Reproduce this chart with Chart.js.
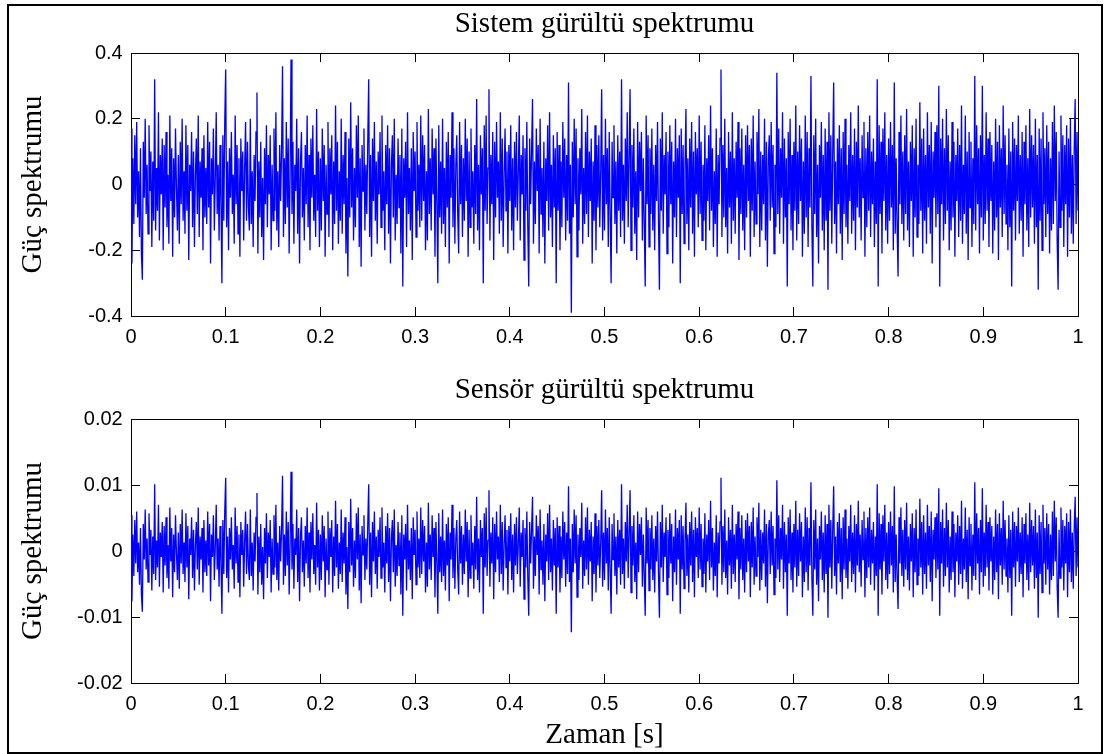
<!DOCTYPE html>
<html>
<head>
<meta charset="utf-8">
<title>Gürültü spektrumu</title>
<script src="https://cdn.jsdelivr.net/npm/chart.js@4.4.1/dist/chart.umd.min.js"></script>
<style>
  html, body { margin: 0; padding: 0; background: #fff; }
  body { width: 1108px; height: 754px; position: relative; overflow: hidden; }
  canvas { position: absolute; left: 0; }
  #topChart { top: 0; }
  #bottomChart { top: 370px; }
  .frame {
    position: absolute; left: 7px; top: 4px; width: 1096px; height: 750px;
    border: 2px solid #000; box-sizing: border-box; pointer-events: none;
  }
</style>
</head>
<body>
<canvas id="topChart" width="1108" height="370"></canvas>
<canvas id="bottomChart" width="1108" height="384"></canvas>
<div class="frame"></div>

<script>
// sampling step of the noise records (seconds)
const SAMPLE_STEP = 0.001;

const xTickValues = [0, 0.1, 0.2, 0.3, 0.4, 0.5, 0.6, 0.7, 0.8, 0.9, 1];
const xTickLabels = ['0', '0.1', '0.2', '0.3', '0.4', '0.5', '0.6', '0.7', '0.8', '0.9', '1'];

const sistemTickValues = [-0.4, -0.2, 0, 0.2, 0.4];
const sistemTickLabels = ['-0.4', '-0.2', '0', '0.2', '0.4'];

const sensorTickValues = [-0.02, -0.01, 0, 0.01, 0.02];
const sensorTickLabels = ['-0.02', '-0.01', '0', '0.01', '0.02'];

// System noise (one row = 0.05 s)
const sistemNoise = [
  0.17,-0.24,0.08,-0.12,0.15,-0.06,0.19,-0.10,0.04,-0.16,0.11,-0.21,-0.29,0.13,-0.04,0.20,-0.09,0.06,-0.15,0.18,-0.02,0.10,-0.19,0.07,-0.11,0.32,-0.14,0.05,-0.08,0.22,-0.17,0.09,-0.03,0.14,-0.20,0.12,-0.07,0.16,-0.13,0.03,-0.18,0.21,-0.05,0.11,-0.22,0.08,-0.10,0.17,-0.01,-0.14,
  0.09,-0.18,0.13,-0.06,0.20,-0.11,0.04,-0.15,0.18,-0.08,0.12,-0.23,0.06,-0.02,0.16,-0.13,0.10,-0.19,0.03,0.14,-0.09,0.21,-0.16,0.07,-0.04,0.11,-0.20,0.15,-0.10,0.05,-0.12,0.19,-0.07,0.13,-0.24,0.08,-0.03,0.17,-0.14,0.02,0.22,-0.09,0.06,-0.17,0.12,-0.05,-0.30,0.15,-0.11,0.19,
  0.35,-0.13,0.07,-0.20,0.11,-0.04,0.16,-0.09,0.03,-0.18,0.21,-0.06,0.12,-0.15,0.08,-0.22,0.14,-0.02,0.10,-0.17,0.05,0.19,-0.11,0.13,-0.07,-0.14,0.20,-0.12,0.04,-0.19,0.09,-0.05,0.16,0.28,-0.21,0.07,-0.10,0.13,-0.16,0.02,-0.23,0.11,-0.06,0.18,-0.13,0.09,-0.03,0.15,-0.20,0.06,
  -0.11,0.17,-0.08,0.22,-0.14,0.04,-0.19,0.12,-0.05,0.10,0.36,-0.16,0.08,-0.12,0.19,-0.07,0.14,-0.21,0.03,0.38,-0.09,0.13,-0.18,0.06,-0.02,0.20,-0.15,0.11,-0.24,0.07,0.16,-0.10,0.05,-0.17,0.12,-0.06,0.21,-0.13,0.09,-0.20,0.14,-0.04,0.18,-0.11,0.03,-0.16,0.23,-0.08,0.10,-0.19,
  0.08,-0.14,0.17,-0.05,0.12,-0.22,0.06,-0.09,0.19,-0.16,0.11,-0.03,0.15,-0.20,0.07,-0.12,0.24,-0.08,0.13,-0.18,0.04,-0.11,0.20,-0.15,0.09,-0.06,0.16,-0.21,0.02,-0.28,0.14,-0.10,0.25,-0.07,0.11,-0.17,0.05,-0.13,0.18,-0.04,0.21,-0.19,0.08,-0.25,0.12,-0.02,0.17,-0.14,0.06,-0.09,
  0.13,0.32,-0.16,0.09,-0.22,0.14,-0.05,0.19,-0.11,0.07,-0.18,0.10,-0.03,0.16,-0.13,0.21,-0.08,0.04,-0.20,0.12,-0.06,0.18,-0.15,0.11,-0.24,0.06,0.15,-0.10,0.20,-0.17,0.03,-0.12,0.14,-0.07,0.09,-0.21,0.17,-0.31,0.08,-0.04,0.13,-0.19,0.22,-0.09,0.05,-0.14,0.11,-0.23,0.16,-0.02,
  0.10,-0.16,0.19,-0.08,0.06,-0.13,0.21,-0.11,0.15,-0.05,0.12,-0.20,0.04,-0.17,0.23,-0.09,0.08,-0.14,0.17,-0.03,0.11,-0.22,0.14,-0.06,-0.30,0.18,-0.10,0.07,-0.15,0.20,-0.12,0.05,-0.19,0.13,-0.07,0.16,-0.24,0.09,-0.04,0.22,-0.13,0.11,-0.18,0.06,0.15,-0.09,-0.21,0.19,-0.06,0.12,
  -0.16,0.08,-0.11,0.20,-0.05,0.14,-0.22,0.10,-0.13,0.17,-0.07,0.04,-0.18,0.12,-0.09,0.26,-0.14,0.06,-0.20,0.15,-0.03,0.11,-0.30,0.18,-0.08,0.21,-0.12,0.05,0.29,-0.17,0.09,-0.06,0.16,-0.23,0.13,-0.10,0.19,-0.04,0.07,-0.15,0.22,-0.11,0.14,-0.19,0.03,0.17,-0.08,0.10,-0.21,0.12,
  -0.05,0.18,-0.14,0.08,-0.20,0.13,-0.07,0.16,-0.11,0.04,0.21,-0.17,0.09,-0.03,0.15,-0.23,0.11,-0.08,0.19,-0.13,-0.31,0.14,-0.06,0.10,0.26,-0.18,0.07,-0.12,0.17,-0.02,0.12,-0.21,0.20,-0.09,0.05,-0.16,0.13,-0.24,0.08,-0.05,0.18,-0.14,0.22,-0.10,0.06,-0.19,0.15,-0.07,0.11,-0.30,
  0.16,-0.08,0.12,-0.20,0.07,-0.13,0.19,-0.04,0.14,-0.17,0.09,-0.11,0.31,-0.15,0.06,-0.39,0.13,-0.10,0.20,-0.06,0.17,-0.22,0.08,-0.14,0.11,-0.03,0.23,-0.18,0.05,-0.12,0.16,-0.09,0.21,-0.16,0.10,-0.05,0.14,-0.24,0.07,-0.11,0.18,-0.20,0.12,-0.07,0.15,-0.13,0.04,0.29,-0.17,0.09,
  -0.14,0.20,-0.06,0.11,-0.19,0.16,-0.09,-0.30,0.13,-0.04,0.18,-0.12,0.07,-0.21,0.15,-0.08,0.10,-0.16,0.32,-0.11,0.06,-0.18,0.14,-0.05,0.22,-0.13,0.09,0.29,-0.20,0.12,-0.07,0.17,-0.15,0.04,-0.23,0.19,-0.10,0.13,-0.02,0.16,-0.17,0.08,-0.12,-0.31,0.21,-0.06,0.15,-0.19,0.11,-0.09,
  0.17,-0.14,0.06,-0.20,0.12,-0.05,0.19,-0.11,-0.32,0.14,-0.08,0.22,-0.15,0.09,-0.03,0.16,-0.21,0.10,-0.13,0.18,-0.06,0.13,-0.24,0.07,-0.10,0.20,-0.16,0.11,-0.04,0.15,-0.30,0.17,-0.09,0.12,-0.18,0.05,0.23,-0.12,0.08,-0.20,0.14,-0.07,0.19,-0.15,0.10,-0.22,0.16,-0.03,0.11,-0.13,
  0.21,-0.09,0.13,-0.17,0.06,-0.11,0.18,-0.20,0.08,-0.05,0.15,-0.14,0.24,-0.08,0.11,-0.19,0.04,-0.12,0.17,-0.22,0.09,-0.06,0.14,0.35,-0.16,0.12,-0.10,0.20,-0.13,0.05,-0.21,0.16,-0.07,0.10,-0.18,0.22,-0.11,0.08,-0.15,0.13,-0.04,0.19,-0.23,0.11,-0.09,0.17,-0.14,0.06,-0.20,0.15,
  -0.10,0.18,-0.05,0.12,-0.22,0.14,-0.08,0.21,-0.16,0.07,-0.12,0.16,-0.03,0.23,-0.19,0.10,-0.14,0.09,-0.06,0.20,-0.17,0.13,-0.25,0.08,0.15,-0.11,0.19,-0.07,0.12,-0.21,0.06,-0.13,0.34,-0.09,0.17,-0.15,0.11,-0.04,0.22,-0.18,0.14,-0.10,0.08,-0.31,0.16,-0.06,0.20,-0.14,0.09,-0.20,
  0.13,-0.08,0.24,-0.17,0.10,-0.12,0.18,-0.05,0.14,-0.22,0.07,-0.15,0.21,-0.10,0.16,-0.19,0.11,-0.07,0.33,-0.13,-0.31,0.15,-0.09,0.20,-0.16,0.06,-0.24,0.12,-0.04,0.19,-0.14,0.09,-0.20,0.17,-0.11,0.13,-0.32,0.22,-0.08,0.15,-0.18,0.10,0.31,-0.12,0.07,-0.21,0.14,-0.06,0.18,-0.15,
  0.11,-0.23,0.16,-0.09,0.20,-0.13,0.06,-0.18,0.12,-0.05,0.22,-0.15,0.09,-0.11,0.17,-0.20,0.13,-0.07,0.24,-0.10,0.08,-0.17,0.15,-0.04,0.19,-0.22,0.11,-0.13,0.16,-0.08,0.21,-0.16,0.10,-0.06,0.14,-0.19,0.07,-0.12,0.32,-0.31,0.18,-0.09,0.13,-0.21,0.17,-0.05,0.22,-0.14,0.09,-0.18,
  0.14,-0.11,0.19,-0.07,0.12,-0.20,0.31,-0.15,0.08,-0.13,-0.28,0.16,-0.06,0.21,-0.12,0.10,-0.17,0.15,-0.09,0.23,-0.14,0.07,-0.19,0.13,-0.05,0.18,-0.22,0.11,-0.10,0.20,-0.16,0.06,-0.12,0.25,-0.08,0.14,-0.21,0.17,-0.11,0.09,-0.18,0.22,-0.07,0.12,-0.15,0.19,-0.24,0.10,-0.04,0.16,
  -0.13,0.18,-0.09,0.30,-0.31,0.14,-0.06,0.20,-0.17,0.11,-0.12,0.23,-0.08,0.15,-0.20,0.07,-0.14,0.19,-0.10,0.13,-0.22,0.09,-0.05,0.17,-0.16,0.12,-0.11,0.24,-0.18,0.06,-0.09,0.21,-0.15,0.10,-0.23,0.16,-0.07,0.13,-0.19,0.08,-0.12,0.33,-0.14,0.18,-0.06,0.11,-0.21,0.15,-0.10,0.30,
  -0.17,0.09,-0.12,0.22,-0.08,0.14,-0.19,0.16,-0.05,0.12,-0.21,0.07,-0.14,0.20,-0.10,0.13,-0.23,0.18,-0.07,0.11,-0.16,0.24,-0.09,0.15,-0.12,0.06,-0.20,0.17,-0.13,0.10,-0.31,0.19,-0.08,0.14,-0.17,0.12,-0.05,0.21,-0.15,0.09,-0.11,0.16,-0.22,0.13,-0.06,0.18,-0.14,0.08,-0.19,0.23,
  -0.10,0.15,-0.07,0.12,-0.18,0.20,-0.13,0.09,-0.32,0.17,-0.11,0.14,-0.20,0.22,-0.06,0.11,-0.16,0.18,-0.09,0.13,-0.21,0.08,-0.14,0.19,-0.12,0.24,-0.05,0.16,-0.17,-0.32,0.10,-0.13,0.21,-0.08,0.15,-0.19,0.12,-0.06,0.18,-0.22,0.14,-0.10,0.20,-0.15,0.09,-0.18,0.11,0.26,-0.12,0.16,
  -0.08
];

// Sensor noise (one row = 0.05 s)
const sensorNoise = [
  0.0054,-0.0076,0.0025,-0.0038,0.0047,-0.0019,0.0060,-0.0032,0.0013,-0.0051,0.0035,-0.0066,-0.0092,0.0041,-0.0013,0.0063,-0.0028,0.0019,-0.0047,0.0057,-0.0006,0.0032,-0.0060,0.0022,-0.0035,0.0101,-0.0044,0.0016,-0.0025,0.0070,-0.0054,0.0028,-0.0009,0.0044,-0.0063,0.0038,-0.0022,0.0051,-0.0041,0.0009,-0.0057,0.0066,-0.0016,0.0035,-0.0070,0.0025,-0.0032,0.0054,-0.0003,-0.0044,
  0.0028,-0.0057,0.0041,-0.0019,0.0063,-0.0035,0.0013,-0.0047,0.0057,-0.0025,0.0038,-0.0073,0.0019,-0.0006,0.0051,-0.0041,0.0032,-0.0060,0.0009,0.0044,-0.0028,0.0066,-0.0051,0.0022,-0.0013,0.0035,-0.0063,0.0047,-0.0032,0.0016,-0.0038,0.0060,-0.0022,0.0041,-0.0076,0.0025,-0.0009,0.0054,-0.0044,0.0006,0.0070,-0.0028,0.0019,-0.0054,0.0038,-0.0016,-0.0095,0.0047,-0.0035,0.0060,
  0.0111,-0.0041,0.0022,-0.0063,0.0035,-0.0013,0.0051,-0.0028,0.0009,-0.0057,0.0066,-0.0019,0.0038,-0.0047,0.0025,-0.0070,0.0044,-0.0006,0.0032,-0.0054,0.0016,0.0060,-0.0035,0.0041,-0.0022,-0.0044,0.0063,-0.0038,0.0013,-0.0060,0.0028,-0.0016,0.0051,0.0088,-0.0066,0.0022,-0.0032,0.0041,-0.0051,0.0006,-0.0073,0.0035,-0.0019,0.0057,-0.0041,0.0028,-0.0009,0.0047,-0.0063,0.0019,
  -0.0035,0.0054,-0.0025,0.0070,-0.0044,0.0013,-0.0060,0.0038,-0.0016,0.0032,0.0114,-0.0051,0.0025,-0.0038,0.0060,-0.0022,0.0044,-0.0066,0.0009,0.0120,-0.0028,0.0041,-0.0057,0.0019,-0.0006,0.0063,-0.0047,0.0035,-0.0076,0.0022,0.0051,-0.0032,0.0016,-0.0054,0.0038,-0.0019,0.0066,-0.0041,0.0028,-0.0063,0.0044,-0.0013,0.0057,-0.0035,0.0009,-0.0051,0.0073,-0.0025,0.0032,-0.0060,
  0.0025,-0.0044,0.0054,-0.0016,0.0038,-0.0070,0.0019,-0.0028,0.0060,-0.0051,0.0035,-0.0009,0.0047,-0.0063,0.0022,-0.0038,0.0076,-0.0025,0.0041,-0.0057,0.0013,-0.0035,0.0063,-0.0047,0.0028,-0.0019,0.0051,-0.0066,0.0006,-0.0088,0.0044,-0.0032,0.0079,-0.0022,0.0035,-0.0054,0.0016,-0.0041,0.0057,-0.0013,0.0066,-0.0060,0.0025,-0.0079,0.0038,-0.0006,0.0054,-0.0044,0.0019,-0.0028,
  0.0041,0.0101,-0.0051,0.0028,-0.0070,0.0044,-0.0016,0.0060,-0.0035,0.0022,-0.0057,0.0032,-0.0009,0.0051,-0.0041,0.0066,-0.0025,0.0013,-0.0063,0.0038,-0.0019,0.0057,-0.0047,0.0035,-0.0076,0.0019,0.0047,-0.0032,0.0063,-0.0054,0.0009,-0.0038,0.0044,-0.0022,0.0028,-0.0066,0.0054,-0.0098,0.0025,-0.0013,0.0041,-0.0060,0.0070,-0.0028,0.0016,-0.0044,0.0035,-0.0073,0.0051,-0.0006,
  0.0032,-0.0051,0.0060,-0.0025,0.0019,-0.0041,0.0066,-0.0035,0.0047,-0.0016,0.0038,-0.0063,0.0013,-0.0054,0.0073,-0.0028,0.0025,-0.0044,0.0054,-0.0009,0.0035,-0.0070,0.0044,-0.0019,-0.0095,0.0057,-0.0032,0.0022,-0.0047,0.0063,-0.0038,0.0016,-0.0060,0.0041,-0.0022,0.0051,-0.0076,0.0028,-0.0013,0.0070,-0.0041,0.0035,-0.0057,0.0019,0.0047,-0.0028,-0.0066,0.0060,-0.0019,0.0038,
  -0.0051,0.0025,-0.0035,0.0063,-0.0016,0.0044,-0.0070,0.0032,-0.0041,0.0054,-0.0022,0.0013,-0.0057,0.0038,-0.0028,0.0082,-0.0044,0.0019,-0.0063,0.0047,-0.0009,0.0035,-0.0095,0.0057,-0.0025,0.0066,-0.0038,0.0016,0.0092,-0.0054,0.0028,-0.0019,0.0051,-0.0073,0.0041,-0.0032,0.0060,-0.0013,0.0022,-0.0047,0.0070,-0.0035,0.0044,-0.0060,0.0009,0.0054,-0.0025,0.0032,-0.0066,0.0038,
  -0.0016,0.0057,-0.0044,0.0025,-0.0063,0.0041,-0.0022,0.0051,-0.0035,0.0013,0.0066,-0.0054,0.0028,-0.0009,0.0047,-0.0073,0.0035,-0.0025,0.0060,-0.0041,-0.0098,0.0044,-0.0019,0.0032,0.0082,-0.0057,0.0022,-0.0038,0.0054,-0.0006,0.0038,-0.0066,0.0063,-0.0028,0.0016,-0.0051,0.0041,-0.0076,0.0025,-0.0016,0.0057,-0.0044,0.0070,-0.0032,0.0019,-0.0060,0.0047,-0.0022,0.0035,-0.0095,
  0.0051,-0.0025,0.0038,-0.0063,0.0022,-0.0041,0.0060,-0.0013,0.0044,-0.0054,0.0028,-0.0035,0.0098,-0.0047,0.0019,-0.0123,0.0041,-0.0032,0.0063,-0.0019,0.0054,-0.0070,0.0025,-0.0044,0.0035,-0.0009,0.0073,-0.0057,0.0016,-0.0038,0.0051,-0.0028,0.0066,-0.0051,0.0032,-0.0016,0.0044,-0.0076,0.0022,-0.0035,0.0057,-0.0063,0.0038,-0.0022,0.0047,-0.0041,0.0013,0.0092,-0.0054,0.0028,
  -0.0044,0.0063,-0.0019,0.0035,-0.0060,0.0051,-0.0028,-0.0095,0.0041,-0.0013,0.0057,-0.0038,0.0022,-0.0066,0.0047,-0.0025,0.0032,-0.0051,0.0101,-0.0035,0.0019,-0.0057,0.0044,-0.0016,0.0070,-0.0041,0.0028,0.0092,-0.0063,0.0038,-0.0022,0.0054,-0.0047,0.0013,-0.0073,0.0060,-0.0032,0.0041,-0.0006,0.0051,-0.0054,0.0025,-0.0038,-0.0098,0.0066,-0.0019,0.0047,-0.0060,0.0035,-0.0028,
  0.0054,-0.0044,0.0019,-0.0063,0.0038,-0.0016,0.0060,-0.0035,-0.0101,0.0044,-0.0025,0.0070,-0.0047,0.0028,-0.0009,0.0051,-0.0066,0.0032,-0.0041,0.0057,-0.0019,0.0041,-0.0076,0.0022,-0.0032,0.0063,-0.0051,0.0035,-0.0013,0.0047,-0.0095,0.0054,-0.0028,0.0038,-0.0057,0.0016,0.0073,-0.0038,0.0025,-0.0063,0.0044,-0.0022,0.0060,-0.0047,0.0032,-0.0070,0.0051,-0.0009,0.0035,-0.0041,
  0.0066,-0.0028,0.0041,-0.0054,0.0019,-0.0035,0.0057,-0.0063,0.0025,-0.0016,0.0047,-0.0044,0.0076,-0.0025,0.0035,-0.0060,0.0013,-0.0038,0.0054,-0.0070,0.0028,-0.0019,0.0044,0.0111,-0.0051,0.0038,-0.0032,0.0063,-0.0041,0.0016,-0.0066,0.0051,-0.0022,0.0032,-0.0057,0.0070,-0.0035,0.0025,-0.0047,0.0041,-0.0013,0.0060,-0.0073,0.0035,-0.0028,0.0054,-0.0044,0.0019,-0.0063,0.0047,
  -0.0032,0.0057,-0.0016,0.0038,-0.0070,0.0044,-0.0025,0.0066,-0.0051,0.0022,-0.0038,0.0051,-0.0009,0.0073,-0.0060,0.0032,-0.0044,0.0028,-0.0019,0.0063,-0.0054,0.0041,-0.0079,0.0025,0.0047,-0.0035,0.0060,-0.0022,0.0038,-0.0066,0.0019,-0.0041,0.0107,-0.0028,0.0054,-0.0047,0.0035,-0.0013,0.0070,-0.0057,0.0044,-0.0032,0.0025,-0.0098,0.0051,-0.0019,0.0063,-0.0044,0.0028,-0.0063,
  0.0041,-0.0025,0.0076,-0.0054,0.0032,-0.0038,0.0057,-0.0016,0.0044,-0.0070,0.0022,-0.0047,0.0066,-0.0032,0.0051,-0.0060,0.0035,-0.0022,0.0104,-0.0041,-0.0098,0.0047,-0.0028,0.0063,-0.0051,0.0019,-0.0076,0.0038,-0.0013,0.0060,-0.0044,0.0028,-0.0063,0.0054,-0.0035,0.0041,-0.0101,0.0070,-0.0025,0.0047,-0.0057,0.0032,0.0098,-0.0038,0.0022,-0.0066,0.0044,-0.0019,0.0057,-0.0047,
  0.0035,-0.0073,0.0051,-0.0028,0.0063,-0.0041,0.0019,-0.0057,0.0038,-0.0016,0.0070,-0.0047,0.0028,-0.0035,0.0054,-0.0063,0.0041,-0.0022,0.0076,-0.0032,0.0025,-0.0054,0.0047,-0.0013,0.0060,-0.0070,0.0035,-0.0041,0.0051,-0.0025,0.0066,-0.0051,0.0032,-0.0019,0.0044,-0.0060,0.0022,-0.0038,0.0101,-0.0098,0.0057,-0.0028,0.0041,-0.0066,0.0054,-0.0016,0.0070,-0.0044,0.0028,-0.0057,
  0.0044,-0.0035,0.0060,-0.0022,0.0038,-0.0063,0.0098,-0.0047,0.0025,-0.0041,-0.0088,0.0051,-0.0019,0.0066,-0.0038,0.0032,-0.0054,0.0047,-0.0028,0.0073,-0.0044,0.0022,-0.0060,0.0041,-0.0016,0.0057,-0.0070,0.0035,-0.0032,0.0063,-0.0051,0.0019,-0.0038,0.0079,-0.0025,0.0044,-0.0066,0.0054,-0.0035,0.0028,-0.0057,0.0070,-0.0022,0.0038,-0.0047,0.0060,-0.0076,0.0032,-0.0013,0.0051,
  -0.0041,0.0057,-0.0028,0.0095,-0.0098,0.0044,-0.0019,0.0063,-0.0054,0.0035,-0.0038,0.0073,-0.0025,0.0047,-0.0063,0.0022,-0.0044,0.0060,-0.0032,0.0041,-0.0070,0.0028,-0.0016,0.0054,-0.0051,0.0038,-0.0035,0.0076,-0.0057,0.0019,-0.0028,0.0066,-0.0047,0.0032,-0.0073,0.0051,-0.0022,0.0041,-0.0060,0.0025,-0.0038,0.0104,-0.0044,0.0057,-0.0019,0.0035,-0.0066,0.0047,-0.0032,0.0095,
  -0.0054,0.0028,-0.0038,0.0070,-0.0025,0.0044,-0.0060,0.0051,-0.0016,0.0038,-0.0066,0.0022,-0.0044,0.0063,-0.0032,0.0041,-0.0073,0.0057,-0.0022,0.0035,-0.0051,0.0076,-0.0028,0.0047,-0.0038,0.0019,-0.0063,0.0054,-0.0041,0.0032,-0.0098,0.0060,-0.0025,0.0044,-0.0054,0.0038,-0.0016,0.0066,-0.0047,0.0028,-0.0035,0.0051,-0.0070,0.0041,-0.0019,0.0057,-0.0044,0.0025,-0.0060,0.0073,
  -0.0032,0.0047,-0.0022,0.0038,-0.0057,0.0063,-0.0041,0.0028,-0.0101,0.0054,-0.0035,0.0044,-0.0063,0.0070,-0.0019,0.0035,-0.0051,0.0057,-0.0028,0.0041,-0.0066,0.0025,-0.0044,0.0060,-0.0038,0.0076,-0.0016,0.0051,-0.0054,-0.0101,0.0032,-0.0041,0.0066,-0.0025,0.0047,-0.0060,0.0038,-0.0019,0.0057,-0.0070,0.0044,-0.0032,0.0063,-0.0047,0.0028,-0.0057,0.0035,0.0082,-0.0038,0.0051,
  -0.0025
];

const serif = 'Liberation Serif, Times New Roman, serif';
const sans = 'Liberation Sans, Arial, sans-serif';

const toPoints = values => values.map((v, i) => ({ x: i * SAMPLE_STEP, y: v }));

// MATLAB-like box: ticks pointing inward on all four sides
const innerGrid = { drawOnChartArea: false, tickLength: -9, color: '#000', tickColor: '#000' };
const axisBorder = { display: true, color: '#000', width: 1 };

const fixedTicks = values => scale => {
  scale.ticks = values.map(v => ({ value: v }));
};

const makeChart = (canvasId, values, cfg) => {
  const ctx = document.getElementById(canvasId).getContext('2d');
  return new Chart(ctx, {
    type: 'line',
    data: {
      datasets: [{
        data: toPoints(values),
        borderColor: '#0000ff',
        borderWidth: 1.3,
        pointRadius: 0,
        tension: 0,
        fill: false,
        xAxisID: 'x',
        yAxisID: 'y'
      }]
    },
    options: {
      responsive: false,
      animation: false,
      events: [],
      layout: { padding: { left: 0, right: 30, top: 0, bottom: 0 } },
      plugins: {
        legend: { display: false },
        tooltip: { enabled: false },
        title: {
          display: true,
          text: cfg.title,
          fullSize: false,
          color: '#000',
          font: { family: serif, size: 29, weight: 'normal', lineHeight: 1 },
          padding: cfg.titlePadding
        }
      },
      scales: {
        x: {
          type: 'linear',
          position: 'bottom',
          min: 0,
          max: 1,
          afterBuildTicks: fixedTicks(xTickValues),
          afterFit: scale => { scale.height = cfg.xHeight; },
          ticks: {
            callback: (v, i) => xTickLabels[i],
            color: '#000',
            font: { family: sans, size: 20 },
            padding: 18,
            maxRotation: 0,
            autoSkip: false
          },
          grid: innerGrid,
          border: axisBorder,
          title: cfg.xTitle
            ? {
                display: true,
                text: cfg.xTitle,
                color: '#000',
                font: { family: serif, size: 29, weight: 'normal', lineHeight: 1 },
                padding: { top: 0, bottom: 4 }
              }
            : { display: false }
        },
        x2: {
          type: 'linear',
          position: 'top',
          min: 0,
          max: 1,
          afterBuildTicks: fixedTicks(xTickValues),
          afterFit: scale => { scale.height = 0; },
          ticks: { display: false },
          grid: innerGrid,
          border: axisBorder
        },
        y: {
          type: 'linear',
          position: 'left',
          min: cfg.yTicks[0],
          max: cfg.yTicks[cfg.yTicks.length - 1],
          afterBuildTicks: fixedTicks(cfg.yTicks),
          afterFit: scale => { scale.width = 131; },
          ticks: {
            callback: (v, i) => cfg.yLabels[i],
            color: '#000',
            font: { family: sans, size: 20 },
            padding: 17.3,
            autoSkip: false
          },
          grid: innerGrid,
          border: axisBorder,
          title: {
            display: true,
            text: 'Güç spektrumu',
            color: '#000',
            font: { family: serif, size: 29, weight: 'normal', lineHeight: 1 },
            padding: { top: 18.5, bottom: 0 }
          }
        },
        y2: {
          type: 'linear',
          position: 'right',
          min: cfg.yTicks[0],
          max: cfg.yTicks[cfg.yTicks.length - 1],
          afterBuildTicks: fixedTicks(cfg.yTicks),
          afterFit: scale => { scale.width = 0; },
          ticks: { display: false },
          grid: innerGrid,
          border: axisBorder
        }
      }
    }
  });
};

makeChart('topChart', sistemNoise, {
  title: 'Sistem gürültü spektrumu',
  titlePadding: { top: 9.5, bottom: 14.5 },
  xHeight: 54,
  yTicks: sistemTickValues,
  yLabels: sistemTickLabels
});

makeChart('bottomChart', sensorNoise, {
  title: 'Sensör gürültü spektrumu',
  titlePadding: { top: 5.5, bottom: 14.5 },
  xHeight: 71,
  xTitle: 'Zaman [s]',
  yTicks: sensorTickValues,
  yLabels: sensorTickLabels
});
</script>
</body>
</html>
